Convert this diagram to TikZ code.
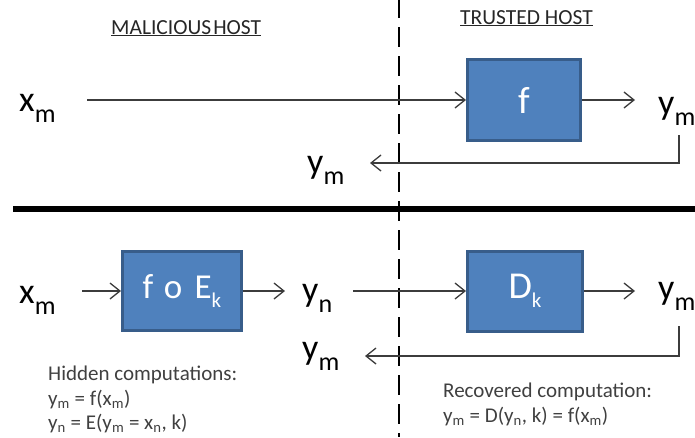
\documentclass[tikz,border=0pt]{standalone}
\usepackage{fontspec}
\setmainfont{Carlito}
\usetikzlibrary{arrows.meta}
\definecolor{boxfill}{RGB}{79,129,189}
\definecolor{boxedge}{RGB}{56,93,138}
\definecolor{txt}{RGB}{64,64,64}
\definecolor{linec}{RGB}{60,60,60}
\newcommand{\bigsub}[1]{\raisebox{-11pt}{\fontsize{26}{26}\selectfont #1}}
\newcommand{\boxsub}[1]{\raisebox{-9pt}{\fontsize{21}{21}\selectfont #1}}
\begin{document}
\begin{tikzpicture}[x=1pt,y=-1pt,
  blk/.style={draw=boxedge, line width=3pt, fill=boxfill, text=white, inner sep=0pt},
  lbl/.style={font=\fontsize{36}{36}\selectfont, inner sep=0pt, text=black},
  small/.style={font=\fontsize{21}{21}\selectfont, inner sep=0pt, text=txt},
  head/.style={font=\fontsize{21.5}{21.5}\selectfont, inner sep=0pt, text=black!85},
  arr/.style={draw=linec, line width=1.3pt, -{Straight Barb[length=10pt,width=16pt,line width=1.3pt]}},
  ln/.style={draw=linec, line width=1.3pt}]
\useasboundingbox (0,0) rectangle (695,437);
% divider lines
\draw[line width=6pt] (13,209) -- (695,209);
\draw[line width=2.6pt, dash pattern=on 20pt off 9pt] (399,-2) -- (399,437);
% headings
\node[head, anchor=base west] (mh) at (111,34) {\underline{MALICIOUS\hspace{2pt}HOST}};
\node[head, anchor=base west] (th) at (460,24) {\underline{TRUSTED HOST}};
% top row
\node[lbl, anchor=base west] (xm1) at (19,111) {x\bigsub{m}};
\node[blk, minimum width=113pt, minimum height=81pt, font=\fontsize{38}{38}\selectfont] (f) at (524,100) {f};
\node[lbl, anchor=base west] (ym1) at (658,114) {y\bigsub{m}};
\node[lbl, anchor=base west] (ym2) at (307,173) {y\bigsub{m}};
\coordinate (s1) at (87,100);
\coordinate (t1) at (635,100);
\coordinate (c1) at (679,135);
\coordinate (k1) at (679,163);
\coordinate (r1) at (370,163);
\draw[arr] (s1) -- (f);
\draw[arr] (f) -- (t1);
\draw[arr] (c1) -- (k1) -- (r1);
% bottom row
\node[lbl, anchor=base west] (xm2) at (19,303) {x\bigsub{m}};
\node[blk, minimum width=119pt, minimum height=79pt, font=\fontsize{35}{35}\selectfont] (fe) at (182,291) {f\hspace{0.3em}o\hspace{0.35em}E\boxsub{k}};
\node[lbl, anchor=base west] (yn) at (302,301) {y\bigsub{n}};
\node[blk, minimum width=115pt, minimum height=80pt, font=\fontsize{38}{38}\selectfont] (D) at (525,291) {D\boxsub{k}};
\node[lbl, anchor=base west] (ym3) at (658,299) {y\bigsub{m}};
\node[lbl, anchor=base west] (ym4) at (302,359) {y\bigsub{m}};
\coordinate (s2) at (82,291);
\coordinate (t2) at (285,291);
\coordinate (s3) at (353,291);
\coordinate (t3) at (635,291);
\coordinate (c2) at (679,326);
\coordinate (k2) at (679,356);
\coordinate (r2) at (365,356);
\draw[arr] (s2) -- (fe);
\draw[arr] (fe) -- (t2);
\draw[arr] (s3) -- (D);
\draw[arr] (D) -- (t3);
\draw[arr] (c2) -- (k2) -- (r2);
% notes
\node[small, anchor=base west] (hc) at (48,380) {Hidden computations:};
\node[small, anchor=base west] (h1) at (48,405) {y\textsubscript{m} = f(x\textsubscript{m})};
\node[small, anchor=base west] (h2) at (48,429) {y\textsubscript{n} = E(y\textsubscript{m} = x\textsubscript{n}, k)};
\node[small, anchor=base west] (rc) at (443,397) {Recovered computation:};
\node[small, anchor=base west] (r1t) at (443,422) {y\textsubscript{m} = D(y\textsubscript{n}, k) = f(x\textsubscript{m})};
\end{tikzpicture}
\end{document}
